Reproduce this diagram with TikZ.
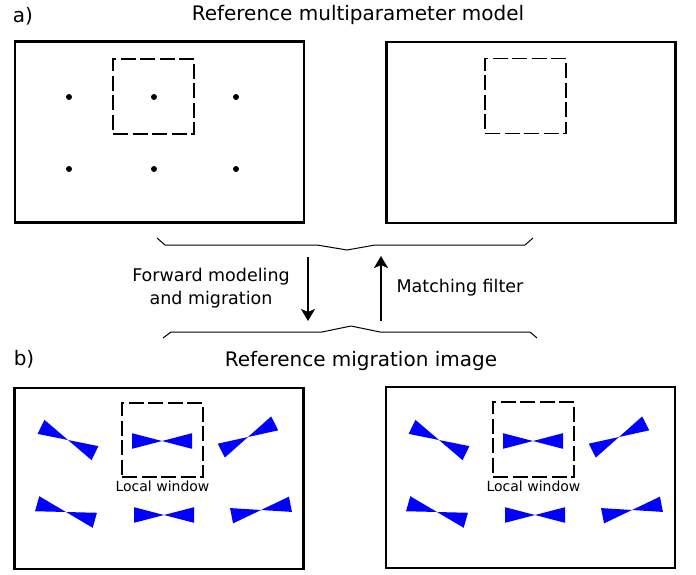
\documentclass[tikz,border=0pt]{standalone}
\usepackage{fontspec}
\setmainfont{DejaVu Sans}
\usetikzlibrary{arrows.meta, positioning}
\tikzstyle{panel}=[draw, line width=2.2pt, minimum width=289pt, minimum height=181pt, inner sep=0pt]
\tikzstyle{window}=[draw, line width=1.8pt, dash pattern=on 15pt off 4.5pt, minimum width=81pt, minimum height=75pt, inner sep=0pt]
\tikzstyle{brace}=[line width=1pt, line join=round]
\tikzstyle{title}=[font=\fontsize{20}{24}\selectfont]
\tikzstyle{label}=[font=\fontsize{17.5}{23}\selectfont, align=center]
\tikzstyle{small}=[font=\fontsize{14}{16}\selectfont, inner sep=1pt]
% one blue wavelet: centre, tilt
\newcommand{\wavelet}[2]{%
  \fill[blue, shift={(#1)}, rotate=#2] (0,0) -- (-30,-7.8) -- (-30,7.8) -- cycle
    (0,0) -- (30,-7.8) -- (30,7.8) -- cycle;}

\begin{document}
\begin{tikzpicture}[x=1pt, y=-1pt, >={Stealth[length=12pt, width=14pt, inset=3pt]}]
  \useasboundingbox (0,0) rectangle (696,574);

  % a) model panels
  \node[title] (labela) at (23,16) {a)};
  \node[title] (titlea) at (358,15) {Reference multiparameter model};
  \node[panel] (model) at (159.5,132) {};
  \node[panel] (modelr) at (531,132.5) {};
  \node[window] (wina) at (153.5,96.5) {};
  \node[window] (winb) at (525.5,96) {};
  \foreach \x in {69,154,236}
    \foreach \y in {97,169}
      \fill (\x,\y) circle (3);

  % braces and arrows in between
  \draw[brace] (157,238) -- (165,245) -- (317,245) -- (347,250) -- (375,245) -- (525,245) -- (533,238);
  \draw[brace] (163,338) -- (171,332) -- (322,332) -- (351,326) -- (380,332) -- (530,332) -- (537,338);
  \coordinate (fwdtop) at (308,257);
  \coordinate (fwdbot) at (308,321);
  \coordinate (mfbot) at (381,321);
  \coordinate (mftop) at (381,256);
  \draw[->, line width=2pt] (fwdtop) -- (fwdbot);
  \draw[->, line width=2pt] (mfbot) -- (mftop);
  \node[label] (fwd) at (211,288) {Forward modeling\\and migration};
  \node[label] (mf) at (460,288) {Matching filter};

  % b) migration images
  \node[title] (labelb) at (24,359) {b)};
  \node[title] (titleb) at (361,361) {Reference migration image};
  \node[panel] (image) at (159,478.5) {};
  \node[panel] (imager) at (530.5,477.5) {};
  \node[window, minimum height=74pt] (winc) at (162.5,440) {};
  \node[window, minimum height=75pt] (wind) at (533.5,439.5) {};
  \node[small, below=2pt of winc] (lwa) {Local window};
  \node[small, below=2pt of wind] (lwb) {Local window};
  \foreach \dx in {0,371} {
    \wavelet{68+\dx,440}{-26}
    \wavelet{162+\dx,441}{0}
    \wavelet{248+\dx,437}{27}
    \wavelet{66+\dx,512}{-16}
    \wavelet{164+\dx,515}{0}
    \wavelet{261+\dx,510}{11}
  }
\end{tikzpicture}
\end{document}
